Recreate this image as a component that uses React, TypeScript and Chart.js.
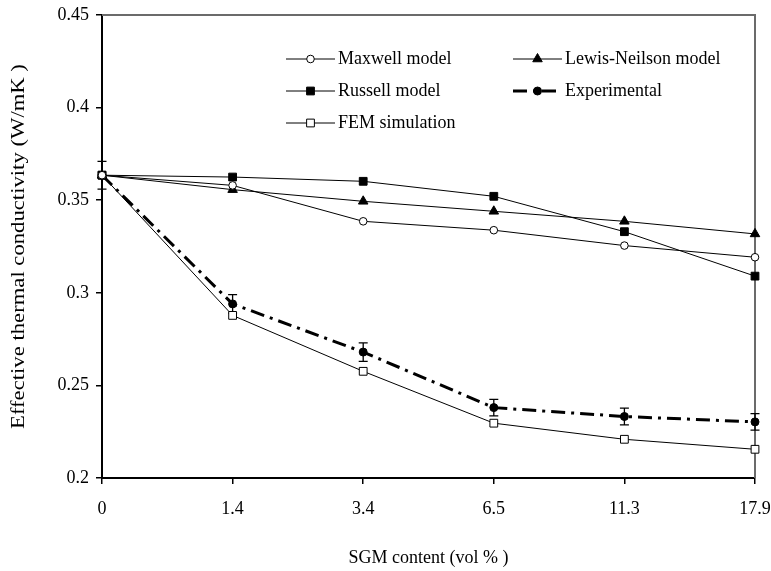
import React, { useEffect, useRef } from 'react';
import { Chart, registerables } from 'chart.js';
import { drawPoint } from 'chart.js/helpers';

Chart.register(...registerables);

const categories = ['0', '1.4', '3.4', '6.5', '11.3', '17.9'];
const maxwell = [0.3635, 0.358, 0.3386, 0.3338, 0.3255, 0.3192];
const lewisNeilson = [0.3635, 0.3557, 0.3494, 0.344, 0.3386, 0.3318];
const russell = [0.3635, 0.3625, 0.3602, 0.3521, 0.333, 0.309];
const experimental = [0.3635, 0.294, 0.268, 0.238, 0.2332, 0.2303];
const experimentalError = [0.0075, 0.005, 0.005, 0.0045, 0.0045, 0.0045];
const fem = [0.3635, 0.2878, 0.2576, 0.2296, 0.2209, 0.2155];
const yTicks = [0.2, 0.25, 0.3, 0.35, 0.4, 0.45];
const yTitle = 'Effective thermal conductivity (W/mK )';
const xTitle = 'SGM content (vol % )';

const FONT = 'Liberation Serif';

const legendLayout = [
  { ds: 0, col: 0, row: 0 },
  { ds: 1, col: 1, row: 0 },
  { ds: 2, col: 0, row: 1 },
  { ds: 3, col: 1, row: 1 },
  { ds: 4, col: 0, row: 2 },
];

const framePlugin = {
  id: 'frame',
  beforeDatasetsDraw(chart: any) {
    const { ctx, chartArea } = chart;
    ctx.save();
    ctx.strokeStyle = '#6b6b6b';
    ctx.lineWidth = 2;
    ctx.beginPath();
    ctx.moveTo(chartArea.left, chartArea.top);
    ctx.lineTo(chartArea.right, chartArea.top);
    ctx.lineTo(chartArea.right, chartArea.bottom);
    ctx.stroke();
    // error bars
    const meta = chart.getDatasetMeta(3);
    const yScale = chart.scales.y;
    ctx.strokeStyle = '#000';
    ctx.lineWidth = 1.3;
    meta.data.forEach((pt: any, i: number) => {
      const v = experimental[i];
      const e = experimentalError[i];
      const y1 = yScale.getPixelForValue(v + e);
      const y2 = yScale.getPixelForValue(v - e);
      ctx.beginPath();
      ctx.moveTo(pt.x, y1);
      ctx.lineTo(pt.x, y2);
      ctx.moveTo(pt.x - 4.5, y1);
      ctx.lineTo(pt.x + 4.5, y1);
      ctx.moveTo(pt.x - 4.5, y2);
      ctx.lineTo(pt.x + 4.5, y2);
      ctx.stroke();
    });
    ctx.restore();
  },
  afterDraw(chart: any) {
    const { ctx, chartArea } = chart;
    // stretched y-axis title
    ctx.save();
    ctx.translate(19, (chartArea.top + chartArea.bottom) / 2);
    ctx.rotate(-Math.PI / 2);
    ctx.scale(1.26, 1);
    ctx.font = `18px "${FONT}"`;
    ctx.fillStyle = '#000';
    ctx.textAlign = 'center';
    ctx.textBaseline = 'middle';
    ctx.fillText(yTitle, 0, 0);
    ctx.restore();

    const colX = [286, 513];
    const rowY = [59, 91, 123];
    const lineLen = 49;
    ctx.save();
    legendLayout.forEach((item) => {
      const ds = chart.data.datasets[item.ds];
      const x = colX[item.col];
      const y = rowY[item.row];
      ctx.save();
      ctx.strokeStyle = ds.borderColor;
      ctx.lineWidth = ds.borderWidth;
      ctx.setLineDash(ds.borderDash || []);
      ctx.beginPath();
      ctx.moveTo(x, y);
      ctx.lineTo(x + lineLen, y);
      ctx.stroke();
      ctx.restore();
      ctx.save();
      ctx.fillStyle = ds.pointBackgroundColor;
      ctx.strokeStyle = ds.pointBorderColor;
      ctx.lineWidth = 1;
      drawPoint(ctx, { pointStyle: ds.pointStyle, radius: ds.pointRadius, rotation: 0, borderWidth: 1 }, x + lineLen / 2, y);
      ctx.restore();
      ctx.fillStyle = '#000';
      ctx.font = `18px "${FONT}"`;
      ctx.textBaseline = 'middle';
      ctx.textAlign = 'left';
      ctx.fillText(ds.label, x + lineLen + 3, y);
    });
    ctx.restore();
  },
};

export default function App() {
  const canvasRef = useRef<HTMLCanvasElement>(null);

  useEffect(() => {
    const canvas = canvasRef.current;
    if (!canvas) return;
    const common = {
      borderColor: '#000',
      borderWidth: 1,
      pointBorderColor: '#000',
      pointBorderWidth: 1,
      tension: 0,
      fill: false,
    };
    const chart = new Chart(canvas, {
      type: 'line',
      data: {
        labels: categories,
        datasets: [
          { ...common, label: 'Maxwell model', data: maxwell, pointStyle: 'circle', pointRadius: 3.8, pointBackgroundColor: '#fff' },
          { ...common, label: 'Lewis-Neilson model', data: lewisNeilson, pointStyle: 'triangle', pointRadius: 5.5, pointBackgroundColor: '#000' },
          { ...common, label: 'Russell model', data: russell, pointStyle: 'rect', pointRadius: 5.5, pointBackgroundColor: '#000' },
          { ...common, label: 'Experimental', data: experimental, pointStyle: 'circle', pointRadius: 4, pointBackgroundColor: '#000', borderWidth: 3, borderDash: [14, 6, 3, 6] },
          { ...common, label: 'FEM simulation', data: fem, pointStyle: 'rect', pointRadius: 5.5, pointBackgroundColor: '#fff' },
        ],
      } as any,
      options: {
        responsive: false,
        animation: false,
        layout: { padding: { left: 0, right: 16, top: 15, bottom: 0 } },
        plugins: { legend: { display: false }, tooltip: { enabled: false } },
        scales: {
          x: {
            type: 'category',
            offset: false,
            grid: { display: true, drawOnChartArea: false, drawTicks: true, tickLength: 6, color: '#000', lineWidth: 1.5, offset: false },
            border: { display: true, color: '#000', width: 2 },
            ticks: { color: '#000', font: { family: FONT, size: 18 }, padding: 14, maxRotation: 0, autoSkip: false },
            title: { display: true, text: xTitle, color: '#000', font: { family: FONT, size: 18 }, padding: { top: 1, bottom: 2 } },
            afterFit(scale: any) {
              scale.height = 93;
              scale.paddingLeft = 0;
              scale.paddingRight = 0;
            },
          },
          y: {
            type: 'linear',
            min: 0.2,
            max: 0.45,
            afterBuildTicks(scale: any) { scale.ticks = yTicks.map((v) => ({ value: v })); },
            grid: { display: true, drawOnChartArea: false, drawTicks: true, tickLength: 6, color: '#000', lineWidth: 1.5 },
            border: { display: true, color: '#000', width: 2 },
            ticks: { color: '#000', font: { family: FONT, size: 18 }, padding: 7, callback: (v: any) => String(Number(Number(v).toFixed(2))) },
            title: { display: false },
            afterFit(scale: any) {
              scale.width = 102;
              scale.paddingTop = 0;
              scale.paddingBottom = 0;
            },
          },
        },
      } as any,
      plugins: [framePlugin],
    });
    return () => chart.destroy();
  }, []);

  return (
    <div style={{ position: 'absolute', left: 0, top: 0, width: 771, height: 571, background: '#fff' }}>
      <canvas ref={canvasRef} width={771} height={571} style={{ display: 'block' }} />
    </div>
  );
}
